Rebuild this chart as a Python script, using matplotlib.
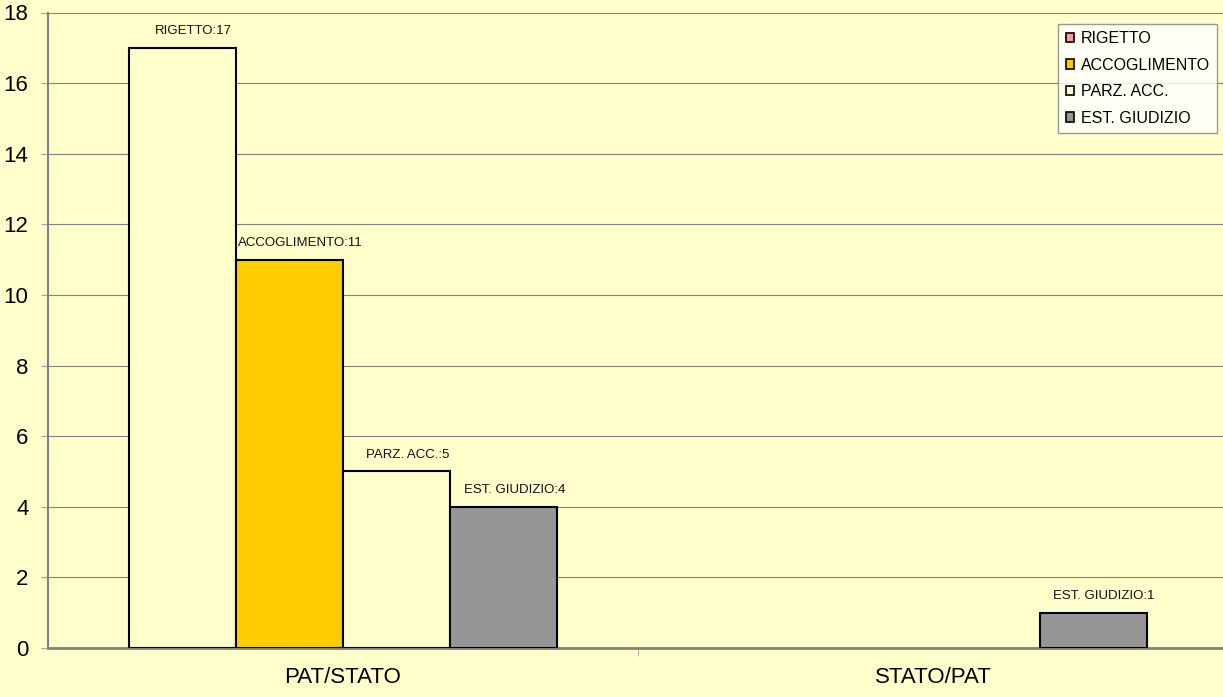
import numpy as np
import matplotlib.pyplot as plt
import matplotlib.transforms as mtransforms
from matplotlib.patches import Patch

categories = ["PAT/STATO", "STATO/PAT"]
series = ["RIGETTO", "ACCOGLIMENTO", "PARZ. ACC.", "EST. GIUDIZIO"]
values = {
    "RIGETTO": [17, 0],
    "ACCOGLIMENTO": [11, 0],
    "PARZ. ACC.": [5, 0],
    "EST. GIUDIZIO": [4, 1],
}
yticks = [0, 2, 4, 6, 8, 10, 12, 14, 16, 18]

bg = "#FFFFCC"
bar_colors = {"RIGETTO": bg, "ACCOGLIMENTO": "#FFCC00",
              "PARZ. ACC.": bg, "EST. GIUDIZIO": "#969696"}
legend_colors = {"RIGETTO": "#FF9999", "ACCOGLIMENTO": "#FFCC00",
                 "PARZ. ACC.": "#FFFFCC", "EST. GIUDIZIO": "#969696"}

W, H = 1223, 697
fig = plt.figure(figsize=(W / 100, H / 100), dpi=100, facecolor=bg)
ax = fig.add_axes([48 / W, 49 / H, 1180 / W, 635.5 / H], facecolor=bg)

x = np.arange(len(categories))
width = 107 / 590
for i, s in enumerate(series):
    pos = x + (i - 1.5) * width
    for p, v in zip(pos, values[s]):
        if v <= 0:
            continue  # nothing drawn for empty bars
        ax.bar(p, v, width, color=bar_colors[s],
               edgecolor="black", linewidth=1.5, zorder=3)
        ax.text(p + width * 0.1, v + 0.3, f"{s}:{v}",
                ha="center", va="bottom", fontsize=9.5, color="#111111",
                family="Liberation Sans")

ax.set_xlim(-0.5, 1.5)
ax.set_ylim(0, 18)
ax.set_yticks(yticks)
ax.set_yticklabels([str(t) for t in yticks], fontsize=16, family="Liberation Sans")
# labels sit a bit below their gridline in the original
offset = mtransforms.ScaledTranslation(0, -5 / 100, fig.dpi_scale_trans)
for lbl in ax.get_yticklabels():
    lbl.set_transform(lbl.get_transform() + offset)
ax.yaxis.grid(True, color="#808080", linewidth=0.8, zorder=0)
ax.set_axisbelow(True)

# category labels centred, separator ticks between groups
ax.set_xticks(x)
ax.set_xticklabels(categories, fontsize=16, family="Liberation Sans")
ax.tick_params(axis="x", length=0, pad=14)
ax.set_xticks([0.5], minor=True)
ax.tick_params(axis="x", which="minor", length=6, color="#A0A0A0")
ax.tick_params(axis="y", length=5, color="#A0A0A0", pad=9)

for side in ["top", "right"]:
    ax.spines[side].set_visible(False)
ax.spines["left"].set_color("#808080")
ax.spines["left"].set_linewidth(1.5)
ax.spines["bottom"].set_color("#808080")
ax.spines["bottom"].set_linewidth(2)

handles = [Patch(facecolor=legend_colors[s], edgecolor="black", linewidth=1.2, label=s)
           for s in series]
leg = fig.legend(handles=handles, loc="upper right",
                 bbox_to_anchor=(1217 / W, 1 - 24 / H),
                 prop={"family": "Liberation Sans", "size": 11.5},
                 frameon=True, fancybox=False, handlelength=0.55, handleheight=0.55,
                 handletextpad=0.4, labelspacing=0.72, borderpad=0.45,
                 borderaxespad=0)
leg.get_frame().set_facecolor("white")
leg.get_frame().set_edgecolor("#808080")
leg.get_frame().set_linewidth(1)

fig.savefig("out.png", dpi=100, facecolor=bg)
